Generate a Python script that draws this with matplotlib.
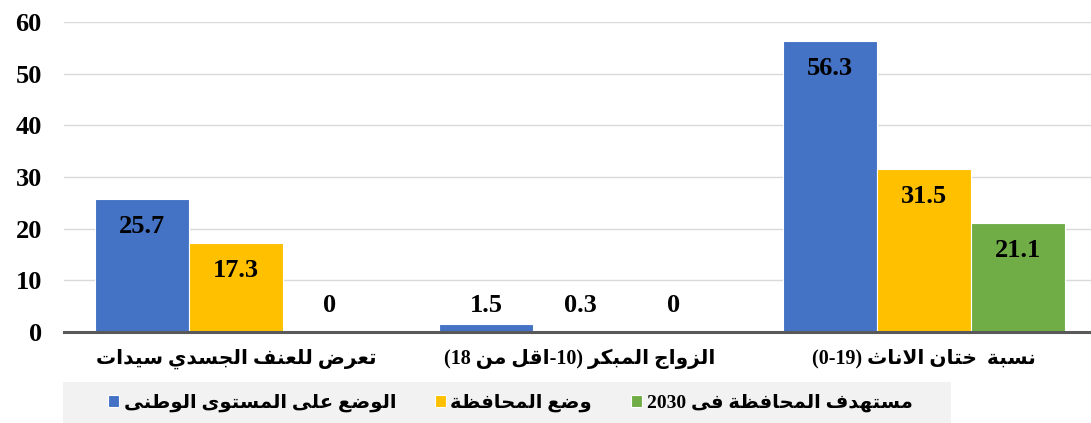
import re
import numpy as np
import matplotlib
matplotlib.use("Agg")
import matplotlib.pyplot as plt
from matplotlib.patches import Rectangle

# Data
categories = ["تعرض للعنف الجسدي سيدات",
              "الزواج المبكر (10-اقل من 18)",
              "نسبة  ختان الاناث (0-19)"]
series_names = ["الوضع على المستوى الوطنى",
                "وضع المحافظة",
                "مستهدف المحافظة فى 2030"]
national = [25.7, 1.5, 56.3]
governorate = [17.3, 0.3, 31.5]
target_2030 = [0, 0, 21.1]
y_ticks = [0, 10, 20, 30, 40, 50, 60]

colors = ["#4472C4", "#FFC000", "#70AD47"]

# --- minimal Arabic shaping + right-to-left ordering (matplotlib does neither)
DUAL = {'ب': 0xFE8F, 'ت': 0xFE95, 'ث': 0xFE99, 'ج': 0xFE9D, 'ح': 0xFEA1,
        'خ': 0xFEA5, 'س': 0xFEB1, 'ش': 0xFEB5, 'ص': 0xFEB9, 'ض': 0xFEBD,
        'ط': 0xFEC1, 'ظ': 0xFEC5, 'ع': 0xFEC9, 'غ': 0xFECD, 'ف': 0xFED1,
        'ق': 0xFED5, 'ك': 0xFED9, 'ل': 0xFEDD, 'م': 0xFEE1, 'ن': 0xFEE5,
        'ه': 0xFEE9, 'ي': 0xFEF1}
RIGHT = {'ا': 0xFE8D, 'د': 0xFEA9, 'ذ': 0xFEAB, 'ر': 0xFEAD, 'ز': 0xFEAF,
         'و': 0xFEED, 'ى': 0xFEEF, 'ة': 0xFE93}


def shape(s):
    tokens = []
    i = 0
    while i < len(s):
        if s[i] == 'ل' and i + 1 < len(s) and s[i + 1] == 'ا':
            tokens.append('LA')
            i += 2
        else:
            tokens.append(s[i])
            i += 1

    def is_ar(t):
        return t in DUAL or t in RIGHT or t == 'LA'

    out = []
    for k, t in enumerate(tokens):
        if not is_ar(t):
            out.append(t)
            continue
        prev = tokens[k - 1] if k > 0 else None
        nxt = tokens[k + 1] if k + 1 < len(tokens) else None
        jp = prev in DUAL
        jn = t in DUAL and nxt is not None and is_ar(nxt)
        if t == 'LA':
            out.append(chr(0xFEFC if jp else 0xFEFB))
            continue
        base = DUAL.get(t, RIGHT.get(t))
        if jp and jn:
            code = base + 3
        elif jp:
            code = base + 1
        elif jn:
            code = base + 2
        else:
            code = base
        out.append(chr(code))
    return ''.join(out)


NUM = r'\d+(?:[-.]\d+)*'


def rtl(s):
    parts = re.split('(' + NUM + ')', shape(s))
    out = []
    for p in reversed(parts):
        if re.fullmatch(NUM, p):
            out.append(p)
        else:
            out.append(p[::-1].translate(str.maketrans('()', ')(')))
    return ''.join(out)


FAM = ['Liberation Serif', 'DejaVu Sans']
plt.rcParams['font.family'] = FAM
plt.rcParams['font.weight'] = 'bold'

fig = plt.figure(figsize=(10.91, 4.23), dpi=100)
ax = fig.add_axes([64 / 1091, 91 / 423, 1032 / 1091, 310 / 423])

x = np.arange(len(categories))
w = 0.273
all_series = [national, governorate, target_2030]
bars = []
for j, vals in enumerate(all_series):
    b = ax.bar(x + (j - 1) * w, vals, width=w, color=colors[j],
               edgecolor='white', linewidth=0.8, zorder=2)
    bars.append(b)
    for xi, v in zip(x, vals):
        ax.text(xi + (j - 1) * w, max(v - 5.3, 5.2), f"{v:g}",
                ha='center', va='center', fontsize=19, fontweight='bold',
                family=FAM, zorder=3)

ax.set_xlim(-0.5, 2.5)
ax.set_ylim(0, 60)
ax.set_yticks(y_ticks)
ax.set_yticklabels([str(t) for t in y_ticks], fontsize=19, fontweight='bold')
ax.set_xticks(x)
ax.set_xticklabels([rtl(c) for c in categories], fontsize=14.5, fontweight='bold')
ax.tick_params(axis='y', length=0, pad=16)
ax.tick_params(axis='x', length=0, pad=12)
ax.grid(axis='y', color='#d9d9d9', linewidth=1, zorder=0)
ax.set_axisbelow(True)
for sp in ['top', 'right', 'left']:
    ax.spines[sp].set_visible(False)
ax.spines['bottom'].set_color('#595959')
ax.spines['bottom'].set_linewidth(2.2)
ax.spines['bottom'].set_zorder(4)

# legend background band
fig.patches.append(Rectangle((63 / 1091, 0), 888 / 1091, 41 / 423,
                             transform=fig.transFigure, facecolor='#f2f2f2',
                             edgecolor='none', zorder=0))
fig.legend([b[0] for b in bars], [rtl(n) for n in series_names],
           loc='center left', bbox_to_anchor=(108 / 1091, 1 - 403 / 423),
           ncol=3, frameon=False, fontsize=14, handlelength=0.55,
           handleheight=0.55, handletextpad=0.25, columnspacing=2.0,
           borderaxespad=0, borderpad=0)

fig.savefig("out.png", dpi=100)
